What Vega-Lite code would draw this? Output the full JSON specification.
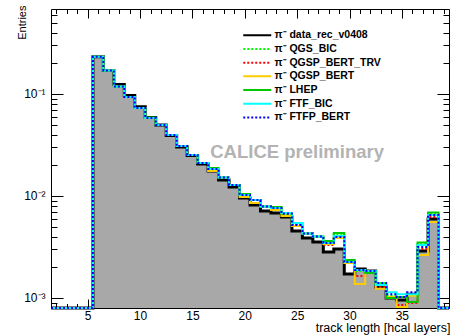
{
  "$schema": "https://vega.github.io/schema/vega-lite/v6.json",
  "width": 398,
  "height": 299,
  "autosize": {"type": "none"},
  "padding": {"left": 51, "top": 9, "right": 2, "bottom": 27},
  "background": "white",
  "config": {"view": {"stroke": "black", "strokeWidth": 1, "fill": "white"}, "font": "Liberation Sans"},
  "datasets": {
    "h": [
      {"lo": 1.5, "data_rec_v0408": 0, "QGS_BIC": 0, "QGSP_BERT_TRV": 0, "QGSP_BERT": 0, "LHEP": 0, "FTF_BIC": 0, "FTFP_BERT": 0},
      {"lo": 5.5, "data_rec_v0408": 0.2321, "QGS_BIC": 0.2321, "QGSP_BERT_TRV": 0.2321, "QGSP_BERT": 0.2321, "LHEP": 0.2321, "FTF_BIC": 0.2321, "FTFP_BERT": 0.2321},
      {"lo": 6.5, "data_rec_v0408": 0.17, "QGS_BIC": 0.17, "QGSP_BERT_TRV": 0.17, "QGSP_BERT": 0.17, "LHEP": 0.17, "FTF_BIC": 0.17, "FTFP_BERT": 0.17},
      {"lo": 7.5, "data_rec_v0408": 0.1239, "QGS_BIC": 0.1185, "QGSP_BERT_TRV": 0.1185, "QGSP_BERT": 0.1185, "LHEP": 0.1185, "FTF_BIC": 0.1185, "FTFP_BERT": 0.1185},
      {"lo": 8.5, "data_rec_v0408": 0.0967, "QGS_BIC": 0.0935, "QGSP_BERT_TRV": 0.0935, "QGSP_BERT": 0.0935, "LHEP": 0.0935, "FTF_BIC": 0.0935, "FTFP_BERT": 0.0935},
      {"lo": 9.5, "data_rec_v0408": 0.0751, "QGS_BIC": 0.0729, "QGSP_BERT_TRV": 0.0729, "QGSP_BERT": 0.0729, "LHEP": 0.0729, "FTF_BIC": 0.0729, "FTFP_BERT": 0.0729},
      {"lo": 10.5, "data_rec_v0408": 0.0588, "QGS_BIC": 0.0582, "QGSP_BERT_TRV": 0.0582, "QGSP_BERT": 0.0582, "LHEP": 0.0588, "FTF_BIC": 0.0582, "FTFP_BERT": 0.0582},
      {"lo": 11.5, "data_rec_v0408": 0.0497, "QGS_BIC": 0.0497, "QGSP_BERT_TRV": 0.0497, "QGSP_BERT": 0.0497, "LHEP": 0.0497, "FTF_BIC": 0.0497, "FTFP_BERT": 0.0497},
      {"lo": 12.5, "data_rec_v0408": 0.0392, "QGS_BIC": 0.0396, "QGSP_BERT_TRV": 0.0396, "QGSP_BERT": 0.0396, "LHEP": 0.0396, "FTF_BIC": 0.0396, "FTFP_BERT": 0.0396},
      {"lo": 13.5, "data_rec_v0408": 0.0302, "QGS_BIC": 0.0309, "QGSP_BERT_TRV": 0.0309, "QGSP_BERT": 0.0309, "LHEP": 0.0309, "FTF_BIC": 0.0309, "FTFP_BERT": 0.0309},
      {"lo": 14.5, "data_rec_v0408": 0.0249, "QGS_BIC": 0.0252, "QGSP_BERT_TRV": 0.0252, "QGSP_BERT": 0.0252, "LHEP": 0.0252, "FTF_BIC": 0.0252, "FTFP_BERT": 0.0252},
      {"lo": 15.5, "data_rec_v0408": 0.0206, "QGS_BIC": 0.0211, "QGSP_BERT_TRV": 0.0211, "QGSP_BERT": 0.0211, "LHEP": 0.0211, "FTF_BIC": 0.0211, "FTFP_BERT": 0.0211},
      {"lo": 16.5, "data_rec_v0408": 0.0176, "QGS_BIC": 0.0184, "QGSP_BERT_TRV": 0.0184, "QGSP_BERT": 0.0176, "LHEP": 0.0188, "FTF_BIC": 0.0184, "FTFP_BERT": 0.0184},
      {"lo": 17.5, "data_rec_v0408": 0.01435, "QGS_BIC": 0.0152, "QGSP_BERT_TRV": 0.0152, "QGSP_BERT": 0.0152, "LHEP": 0.0152, "FTF_BIC": 0.0152, "FTFP_BERT": 0.0152},
      {"lo": 18.5, "data_rec_v0408": 0.01226, "QGS_BIC": 0.0128, "QGSP_BERT_TRV": 0.0128, "QGSP_BERT": 0.0128, "LHEP": 0.0128, "FTF_BIC": 0.0128, "FTFP_BERT": 0.0128},
      {"lo": 19.5, "data_rec_v0408": 0.00956, "QGS_BIC": 0.01023, "QGSP_BERT_TRV": 0.01023, "QGSP_BERT": 0.00978, "LHEP": 0.01046, "FTF_BIC": 0.01023, "FTFP_BERT": 0.01023},
      {"lo": 20.5, "data_rec_v0408": 0.00816, "QGS_BIC": 0.00914, "QGSP_BERT_TRV": 0.00914, "QGSP_BERT": 0.00854, "LHEP": 0.00914, "FTF_BIC": 0.00914, "FTFP_BERT": 0.00914},
      {"lo": 21.5, "data_rec_v0408": 0.00713, "QGS_BIC": 0.00789, "QGSP_BERT_TRV": 0.00789, "QGSP_BERT": 0.00789, "LHEP": 0.00789, "FTF_BIC": 0.00789, "FTFP_BERT": 0.00789},
      {"lo": 22.5, "data_rec_v0408": 0.00681, "QGS_BIC": 0.0078, "QGSP_BERT_TRV": 0.00763, "QGSP_BERT": 0.00729, "LHEP": 0.0078, "FTF_BIC": 0.00763, "FTFP_BERT": 0.00763},
      {"lo": 23.5, "data_rec_v0408": 0.00622, "QGS_BIC": 0.00666, "QGSP_BERT_TRV": 0.00674, "QGSP_BERT": 0.00637, "LHEP": 0.00674, "FTF_BIC": 0.00681, "FTFP_BERT": 0.00674},
      {"lo": 24.5, "data_rec_v0408": 0.00454, "QGS_BIC": 0.0052, "QGSP_BERT_TRV": 0.0052, "QGSP_BERT": 0.00508, "LHEP": 0.00544, "FTF_BIC": 0.00544, "FTFP_BERT": 0.0052},
      {"lo": 25.5, "data_rec_v0408": 0.00388, "QGS_BIC": 0.00429, "QGSP_BERT_TRV": 0.00429, "QGSP_BERT": 0.00429, "LHEP": 0.00429, "FTF_BIC": 0.00429, "FTFP_BERT": 0.00429},
      {"lo": 26.5, "data_rec_v0408": 0.00354, "QGS_BIC": 0.00401, "QGSP_BERT_TRV": 0.00401, "QGSP_BERT": 0.00401, "LHEP": 0.00401, "FTF_BIC": 0.00401, "FTFP_BERT": 0.00401},
      {"lo": 27.5, "data_rec_v0408": 0.00282, "QGS_BIC": 0.00346, "QGSP_BERT_TRV": 0.00331, "QGSP_BERT": 0.00338, "LHEP": 0.00362, "FTF_BIC": 0.00346, "FTFP_BERT": 0.00346},
      {"lo": 28.5, "data_rec_v0408": 0.00302, "QGS_BIC": 0.00424, "QGSP_BERT_TRV": 0.00396, "QGSP_BERT": 0.00388, "LHEP": 0.00434, "FTF_BIC": 0.00405, "FTFP_BERT": 0.00396},
      {"lo": 29.5, "data_rec_v0408": 0.00172, "QGS_BIC": 0.00225, "QGSP_BERT_TRV": 0.00225, "QGSP_BERT": 0.0022, "LHEP": 0.00236, "FTF_BIC": 0.00225, "FTFP_BERT": 0.00225},
      {"lo": 30.5, "data_rec_v0408": 0.00192, "QGS_BIC": 0.00184, "QGSP_BERT_TRV": 0.00164, "QGSP_BERT": 0.00137, "LHEP": 0.00188, "FTF_BIC": 0.00188, "FTFP_BERT": 0.00188},
      {"lo": 31.5, "data_rec_v0408": 0.00184, "QGS_BIC": 0.00184, "QGSP_BERT_TRV": 0.00176, "QGSP_BERT": 0.00176, "LHEP": 0.00176, "FTF_BIC": 0.00184, "FTFP_BERT": 0.00184},
      {"lo": 32.5, "data_rec_v0408": 0.00128, "QGS_BIC": 0.0014, "QGSP_BERT_TRV": 0.00128, "QGSP_BERT": 0.00123, "LHEP": 0.00134, "FTF_BIC": 0.00134, "FTFP_BERT": 0.0014},
      {"lo": 33.5, "data_rec_v0408": 0.001, "QGS_BIC": 0.00105, "QGSP_BERT_TRV": 0.00102, "QGSP_BERT": 0.00102, "LHEP": 0.001, "FTF_BIC": 0.00114, "FTFP_BERT": 0.00109},
      {"lo": 34.5, "data_rec_v0408": 0.000956, "QGS_BIC": 0.00102, "QGSP_BERT_TRV": 0.000854, "QGSP_BERT": 0.000816, "LHEP": 0.00102, "FTF_BIC": 0.00109, "FTFP_BERT": 0.00102},
      {"lo": 35.5, "data_rec_v0408": 0.00109, "QGS_BIC": 0.00105, "QGSP_BERT_TRV": 0.000893, "QGSP_BERT": 0.00105, "LHEP": 0.000914, "FTF_BIC": 0.00109, "FTFP_BERT": 0.00114},
      {"lo": 36.5, "data_rec_v0408": 0.00289, "QGS_BIC": 0.00338, "QGSP_BERT_TRV": 0.00302, "QGSP_BERT": 0.00264, "LHEP": 0.0035, "FTF_BIC": 0.00331, "FTFP_BERT": 0.00316},
      {"lo": 37.5, "data_rec_v0408": 0.00595, "QGS_BIC": 0.00666, "QGSP_BERT_TRV": 0.00622, "QGSP_BERT": 0.00556, "LHEP": 0.00689, "FTF_BIC": 0.00651, "FTFP_BERT": 0.00651},
      {"lo": 38.5, "data_rec_v0408": 0, "QGS_BIC": 0, "QGSP_BERT_TRV": 0, "QGSP_BERT": 0, "LHEP": 0, "FTF_BIC": 0, "FTFP_BERT": 0},
      {"lo": 39.5, "data_rec_v0408": 0, "QGS_BIC": 0, "QGSP_BERT_TRV": 0, "QGSP_BERT": 0, "LHEP": 0, "FTF_BIC": 0, "FTFP_BERT": 0}
    ]
  },
  "data": {"name": "h"},
  "layer": [
    {
      "mark": {"type": "area", "interpolate": "step-after", "fill": "#a8a8a8", "clip": true},
      "encoding": {
        "x": {
          "field": "lo", "type": "quantitative",
          "scale": {"domain": [1.5, 39.5], "nice": false, "zero": false},
          "axis": {
            "orient": "bottom",
            "values": [2,3,4,5,6,7,8,9,10,11,12,13,14,15,16,17,18,19,20,21,22,23,24,25,26,27,28,29,30,31,32,33,34,35,36,37,38,39],
            "labelExpr": "datum.value % 5 == 0 ? datum.label : ''",
            "tickSize": {"condition": {"test": "datum.value % 5 == 0", "value": -9}, "value": -4.5},
            "tickColor": "black", "tickWidth": 1, "domain": false, "grid": false,
            "labelFont": "Liberation Sans", "labelFontSize": 12, "labelColor": "black",
            "labelBaseline": "alphabetic", "labelPadding": 20, "labelFlush": false, "labelOverlap": false,
            "title": "track length [hcal layers]", "titleFont": "Liberation Sans", "titleFontSize": 12.5,
            "titleFontWeight": "normal", "titleColor": "black", "titleAlign": "right", "titleAnchor": "end",
            "titleX": 399, "titleY": 23.5, "titleBaseline": "alphabetic"
          }
        },
        "y": {
          "field": "data_rec_v0408", "type": "quantitative",
          "scale": {"type": "log", "domain": [0.000797, 0.681], "nice": false, "zero": false, "clamp": true},
          "axis": {
            "orient": "left",
            "values": [0.0008,0.0009,0.001,0.002,0.003,0.004,0.005,0.006,0.007,0.008,0.009,0.01,0.02,0.03,0.04,0.05,0.06,0.07,0.08,0.09,0.1,0.2,0.3,0.4,0.5,0.6],
            "labelExpr": "datum.value == 0.1 ? '10⁻¹' : datum.value == 0.01 ? '10⁻²' : datum.value == 0.001 ? '10⁻³' : ''",
            "tickSize": {"condition": {"test": "datum.value == 0.1 || datum.value == 0.01 || datum.value == 0.001", "value": -12}, "value": -6},
            "tickColor": "black", "tickWidth": 1, "domain": false, "grid": false,
            "labelFont": "Liberation Sans", "labelFontSize": 12, "labelColor": "black",
            "labelAlign": "right", "labelBaseline": "middle", "labelPadding": 18, "labelFlush": false, "labelOverlap": false,
            "title": "Entries", "titleFont": "Liberation Sans", "titleFontSize": 11, "titleFontWeight": "normal",
            "titleColor": "black", "titleAlign": "right", "titleAngle": 270, "titleAnchor": "end",
            "titleX": -26, "titleY": -4, "titleBaseline": "alphabetic"
          }
        },
        "y2": {"datum": 0.000797}
      }
    },
    {
      "transform": [{"fold": ["data_rec_v0408", "QGS_BIC", "QGSP_BERT_TRV", "QGSP_BERT", "LHEP", "FTF_BIC", "FTFP_BERT"], "as": ["series", "v"]}],
      "mark": {"type": "line", "interpolate": "step-after", "clip": false, "strokeCap": "butt"},
      "encoding": {
        "x": {
          "field": "lo", "type": "quantitative",
          "axis": {
            "orient": "top",
            "values": [2,3,4,5,6,7,8,9,10,11,12,13,14,15,16,17,18,19,20,21,22,23,24,25,26,27,28,29,30,31,32,33,34,35,36,37,38,39],
            "labels": false,
            "tickSize": {"condition": {"test": "datum.value % 5 == 0", "value": -9}, "value": -4.5},
            "tickColor": "black", "tickWidth": 1, "domain": false, "grid": false, "title": null
          }
        },
        "y": {
          "field": "v", "type": "quantitative",
          "axis": {
            "orient": "right",
            "values": [0.0008,0.0009,0.001,0.002,0.003,0.004,0.005,0.006,0.007,0.008,0.009,0.01,0.02,0.03,0.04,0.05,0.06,0.07,0.08,0.09,0.1,0.2,0.3,0.4,0.5,0.6],
            "labels": false,
            "tickSize": {"condition": {"test": "datum.value == 0.1 || datum.value == 0.01 || datum.value == 0.001", "value": -12}, "value": -6},
            "tickColor": "black", "tickWidth": 1, "domain": false, "grid": false, "title": null
          }
        },
        "color": {
          "field": "series", "type": "nominal",
          "scale": {
            "domain": ["data_rec_v0408", "QGS_BIC", "QGSP_BERT_TRV", "QGSP_BERT", "LHEP", "FTF_BIC", "FTFP_BERT"],
            "range": ["#000000", "#00ff00", "#ff0000", "#ffcc00", "#00c800", "#00ffff", "#0000ff"]
          },
          "legend": {
            "orient": "none", "legendX": 201, "legendY": 21, "title": null,
            "symbolType": "M-3.5,0H3.5", "symbolSize": 64, "symbolStrokeWidth": 2,
            "labelFont": "Liberation Sans", "labelFontSize": 10.5, "labelFontWeight": "bold", "labelColor": "black",
            "labelExpr": "'π⁻ ' + datum.label", "labelOffset": 12, "rowPadding": 2.7, "padding": 0, "labelLimit": 0
          }
        },
        "strokeDash": {
          "field": "series", "type": "nominal",
          "scale": {
            "domain": ["data_rec_v0408", "QGS_BIC", "QGSP_BERT_TRV", "QGSP_BERT", "LHEP", "FTF_BIC", "FTFP_BERT"],
            "range": [[1, 0], [2, 2], [2, 2], [1, 0], [1, 0], [1, 0], [2, 2]]
          }
        },
        "strokeWidth": {"condition": {"test": "datum.series == 'data_rec_v0408'", "value": 3}, "value": 2}
      }
    },
    {
      "data": {"values": [{"lx": 25, "ly": 0.0272, "txt": "CALICE preliminary"}]},
      "mark": {"type": "text", "font": "Liberation Sans", "fontSize": 18.5, "fontWeight": "bold", "color": "#b3b3b3", "align": "center", "baseline": "middle"},
      "encoding": {
        "x": {"field": "lx", "type": "quantitative", "axis": null},
        "y": {"field": "ly", "type": "quantitative", "axis": null},
        "text": {"field": "txt"}
      }
    }
  ],
  "resolve": {"axis": {"x": "independent", "y": "independent"}}
}
